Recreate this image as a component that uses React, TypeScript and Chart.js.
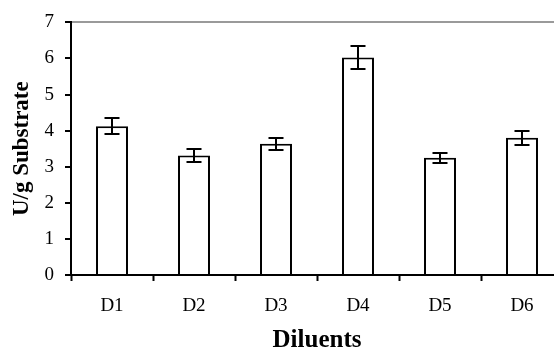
import React, { useEffect, useRef } from "react";
import { Chart, registerables } from "chart.js";

Chart.register(...registerables);

const categories = ["D1", "D2", "D3", "D4", "D5", "D6"];
const values = [4.12, 3.31, 3.64, 6.03, 3.25, 3.8];
const errors = [0.22, 0.18, 0.17, 0.31, 0.14, 0.19];
const yMin = 0;
const yMax = 7;
const yStep = 1;
const xTitle = "Diluents";
const yTitle = "U/g Substrate";

const FONT = "'Liberation Serif', 'Times New Roman', serif";

const errorBarPlugin = {
  id: "errorBars",
  afterDatasetsDraw(chart: any) {
    const ctx = chart.ctx;
    const y = chart.scales.y;
    const meta = chart.getDatasetMeta(0);
    ctx.save();
    ctx.strokeStyle = "#000";
    ctx.lineWidth = 2;
    meta.data.forEach((bar: any, i: number) => {
      const x = Math.round(bar.x);
      const top = Math.round(y.getPixelForValue(values[i] + errors[i]));
      const bot = Math.round(y.getPixelForValue(values[i] - errors[i]));
      const half = 7.5;
      ctx.beginPath();
      ctx.moveTo(x, top);
      ctx.lineTo(x, bot);
      ctx.moveTo(x - half, top);
      ctx.lineTo(x + half, top);
      ctx.moveTo(x - half, bot);
      ctx.lineTo(x + half, bot);
      ctx.stroke();
    });
    ctx.restore();
  },
};

export default function App() {
  const ref = useRef<HTMLCanvasElement | null>(null);

  useEffect(() => {
    if (!ref.current) return;
    const chart = new Chart(ref.current, {
      type: "bar",
      data: {
        labels: categories,
        datasets: [
          {
            data: values,
            backgroundColor: "#ffffff",
            borderColor: "#000000",
            borderWidth: 2,
            barPercentage: 0.39,
            categoryPercentage: 1,
          },
        ],
      },
      options: {
        responsive: false,
        animation: false,
        devicePixelRatio: 1,
        layout: { padding: { top: 19, right: 1, left: 0, bottom: 0 } },
        plugins: {
          legend: { display: false },
          tooltip: { enabled: false },
        },
        scales: {
          x: {
            afterFit: (scale: any) => {
              scale.height = 76;
            },
            grid: {
              offset: true,
              color: "rgba(0,0,0,0)",
              tickColor: "#000",
              tickLength: 6,
              tickWidth: 2,
              drawOnChartArea: false,
            },
            border: { color: "#000", width: 2 },
            ticks: {
              color: "#000",
              padding: 14,
              font: { family: FONT, size: 19 },
            },
            title: {
              display: true,
              text: xTitle,
              color: "#000",
              padding: { top: 0, bottom: 0 },
              font: { family: FONT, size: 25, weight: "bold", lineHeight: 0.8 },
            },
          },
          y: {
            min: yMin,
            max: yMax,
            afterFit: (scale: any) => {
              scale.width = 71;
            },
            grid: {
              color: (c: any) =>
                c.tick && c.tick.value === yMax ? "#9a9a9a" : "rgba(0,0,0,0)",
              lineWidth: 2,
              tickColor: "#000",
              tickLength: 6,
              tickWidth: 2,
            },
            border: { color: "#000", width: 2 },
            ticks: {
              stepSize: yStep,
              color: "#000",
              padding: 11,
              font: { family: FONT, size: 19 },
            },
            title: {
              display: true,
              text: yTitle,
              color: "#000",
              padding: { top: 11, bottom: 0 },
              font: { family: FONT, size: 23, weight: "bold", lineHeight: 1 },
            },
          },
        },
      },
      plugins: [errorBarPlugin],
    });
    return () => chart.destroy();
  }, []);

  return (
    <div
      style={{
        position: "fixed",
        left: 0,
        top: 0,
        width: 554,
        height: 351,
        overflow: "hidden",
        background: "#fff",
      }}
    >
      <canvas ref={ref} width={564} height={351} style={{ display: "block" }} />
    </div>
  );
}
